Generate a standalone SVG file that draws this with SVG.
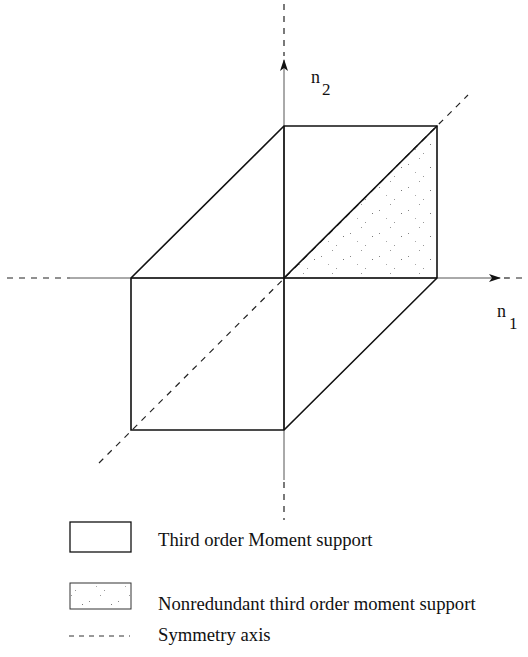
<svg xmlns="http://www.w3.org/2000/svg" width="528" height="657" viewBox="0 0 528 657">
<style>
.axis{stroke:#555;stroke-width:1;fill:none}
.dash{stroke:#222;stroke-width:1.2;stroke-dasharray:6,6;fill:none}
.edge{stroke:#111;stroke-width:1.6;fill:none;stroke-linejoin:miter}
</style>
<defs>
<pattern id="dots" width="29" height="23" patternUnits="userSpaceOnUse">
<rect x="2" y="3" width="1" height="1" fill="#888"/>
<rect x="17" y="15" width="1" height="1" fill="#999"/>
<rect x="9" y="11" width="1" height="1" fill="#aaa"/>
<rect x="24" y="6" width="1" height="1" fill="#777"/>
<rect x="13" y="20" width="1" height="1" fill="#999"/>
</pattern>
<marker id="arr" markerWidth="12" markerHeight="8" refX="11" refY="4" orient="auto" markerUnits="userSpaceOnUse">
<path d="M0,0 L12,4 L0,8 L3,4 Z" fill="#111"/>
</marker>
</defs>
<g id="axes">
<line class="dash" x1="7" y1="278" x2="70" y2="278"/>
<line class="axis" x1="70" y1="278" x2="500" y2="278" marker-end="url(#arr)"/>
<line class="dash" x1="504" y1="278" x2="528" y2="278"/>
<line class="dash" x1="284" y1="4" x2="284" y2="56"/>
<line class="axis" x1="284" y1="480" x2="284" y2="60" marker-end="url(#arr)"/>
<line class="dash" x1="284" y1="482" x2="284" y2="520"/>
<line class="dash" x1="99" y1="463" x2="468" y2="95"/>
</g>
<g id="region">
<polygon points="284,278 437,126 437,278" fill="url(#dots)"/>
<polygon class="edge" points="284,126 437,126 437,278 284,430 131,430 131,278"/>
<line class="edge" x1="284" y1="126" x2="284" y2="430"/>
<line class="edge" x1="131" y1="278" x2="437" y2="278"/>
<line class="edge" x1="284" y1="278" x2="437" y2="126"/>
</g>
<g id="labels" font-family="'Liberation Serif', 'Times New Roman', serif" fill="#111">
<text x="311" y="83" font-size="18">n</text>
<text x="322" y="95" font-size="17">2</text>
<text x="497" y="317" font-size="18">n</text>
<text x="509" y="329" font-size="17">1</text>
</g>
<g id="legend" font-family="'Liberation Serif', 'Times New Roman', serif" fill="#111">
<rect x="70" y="522" width="61" height="30" fill="none" stroke="#111" stroke-width="1.3"/>
<text x="158" y="546" font-size="18.7">Third order Moment support</text>
<rect x="70" y="583" width="61" height="26" fill="url(#dots)" stroke="#333" stroke-width="1"/>
<text x="158" y="610" font-size="18.7">Nonredundant third order moment support</text>
<line x1="69" y1="636" x2="130" y2="636" stroke="#333" stroke-width="1" stroke-dasharray="5,5"/>
<text x="158" y="641" font-size="18.7">Symmetry axis</text>
</g>
</svg>
